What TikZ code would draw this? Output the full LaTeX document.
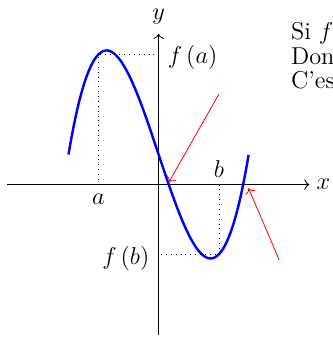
\documentclass[tikz,border=0pt]{standalone}
\usepackage{amsmath}
\usepackage{tikz}
\usetikzlibrary{positioning, arrows.meta, calc}

\begin{document}
\begin{tikzpicture}[
	x=0.9cm, y=0.9cm,
	font=\fontsize{12pt}{12pt}\selectfont,
	% Define styles for the lines
	axis/.style={->, thin, black},
	curve/.style={blue, very thick, smooth, samples=120},
	guide/.style={dotted, thin},
	hint/.style={->, red, thin}
	]
	\useasboundingbox (-3.05,-2.95) rectangle (3.34,3.55);
	
	% --- 1. AXES ---
	\coordinate (x_start) at (-2.91,0);
	\coordinate (x_end) at (2.9,0);
	\coordinate (y_start) at (0,-2.9);
	\coordinate (y_end) at (0,2.9);
	\draw[axis] (x_start) -- (x_end);
	\draw[axis] (y_start) -- (y_end);
	\node[right] (x_label) at (x_end) {$x$};
	\node[above=1pt of y_end] (y_label) {$y$};
	
	% --- 2. CURVE ---
	\draw[curve, domain=-1.732:1.732] plot (\x, {\x*\x*\x - 3*\x + 0.58});
	
	% --- 3. POINT a ---
	\coordinate (a) at (-1.16,0);
	\coordinate (fa) at (-1.16,2.5);
	\coordinate (fa_axis) at (0,2.5);
	\draw[guide] (a) -- (fa) -- (fa_axis);
	\node[below=1pt of a] (a_label) {$a$};
	\node[right=1pt] (fa_label) at (0,2.44) {$f\left(a\right)$};
	
	% --- 4. POINT b ---
	\coordinate (b) at (1.16,0);
	\coordinate (fb) at (1.16,-1.34);
	\coordinate (fb_axis) at (0,-1.34);
	\draw[guide] (b) -- (fb) -- (fb_axis);
	\node[above=0pt of b] (b_label) {$b$};
	\node[left=1pt] (fb_label) at (0,-1.41) {$f\left(b\right)$};
	
	% --- 5. ROOTS (red hints) ---
	\coordinate (root_1) at (0.2,0.05);
	\coordinate (hint_1) at (1.16,1.74);
	\draw[hint] (hint_1) -- (root_1);
	\coordinate (root_2) at (1.73,-0.07);
	\coordinate (hint_2) at (2.32,-1.45);
	\draw[hint] (hint_2) -- (root_2);
	
	% --- 6. TEXT ---
	\node[anchor=north west, align=left, inner sep=0pt] (remark) at (2.54,3.12) {Si $f$\\Don\\C’es};
	
\end{tikzpicture}
\end{document}
